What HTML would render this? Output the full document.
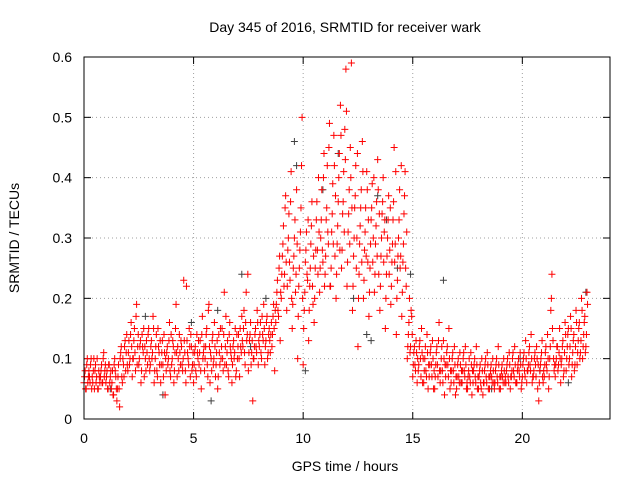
<!DOCTYPE html>
<html><head><meta charset="utf-8"><style>
body{margin:0;background:#fff;}
svg{display:block;font-family:"Liberation Sans",sans-serif;}
</style></head><body>
<svg id="chart" width="640" height="480">
<rect width="640" height="480" fill="#fff"/>
<text x="345" y="32" font-size="14" text-anchor="middle" fill="#000">Day 345 of 2016, SRMTID for receiver wark</text>
<text x="345" y="471" font-size="14" text-anchor="middle">GPS time / hours</text>
<text transform="translate(19,238) rotate(-90)" font-size="14" text-anchor="middle">SRMTID / TECUs</text>
<g id="grid"></g>
<g id="ticks"></g>
<g id="grey"></g>
<g id="red"></g>
<rect x="84" y="57" width="526" height="362" fill="none" stroke="#000" stroke-width="1"/>
</svg>
<script>
const xTicks=[0,5,10,15,20];
const yTicks=[0,0.1,0.2,0.3,0.4,0.5,0.6];
const yTickLabels=["0","0.1","0.2","0.3","0.4","0.5","0.6"];
const binStart=0, binWidth=0.25;
const redValues=[
[.06,.08,.05,.10,.07],[.07,.09,.05,.06,.10],[.08,.06,.10,.05,.07],[.07,.09,.06,.11,.08],
[.06,.08,.05,.09,.07],[.05,.08,.04,.10,.07],[.03,.07,.05,.10,.12],[.06,.09,.12,.08,.14],
[.08,.13,.10,.16,.07],[.10,.15,.08,.19,.12],[.09,.12,.06,.14,.11],[.07,.10,.13,.09,.15],
[.08,.12,.10,.17,.06],[.10,.14,.07,.12,.09],[.06,.11,.09,.14,.04],[.08,.12,.10,.16,.07],
[.09,.13,.06,.11,.19],[.07,.10,.14,.09,.12],[.08,.23,.11,.06,.13],[.10,.15,.07,.12,.09],
[.06,.11,.08,.14,.10],[.09,.13,.05,.17,.11],[.08,.12,.15,.07,.19],[.06,.10,.13,.09,.16],
[.07,.11,.05,.14,.09],[.10,.15,.08,.21,.12],[.09,.13,.07,.16,.11],[.06,.12,.10,.15,.08],
[.10,.14,.07,.12,.17],[.12,.18,.09,.21,.14],[.08,.13,.16,.11,.03],[.10,.14,.12,.18,.09],
[.12,.16,.10,.14,.19],[.09,.13,.17,.11,.15],[.11,.16,.14,.19,.08],[.16,.21,.18,.25,.13],
[.20,.27,.32,.24,.37],[.18,.28,.34,.23,.41],[.15,.25,.30,.21,.38],[.10,.22,.28,.35,.50],
[.09,.18,.26,.31,.23],[.13,.22,.29,.36,.19],[.16,.25,.33,.28,.40],[.21,.30,.38,.26,.44],
[.24,.33,.42,.29,.49],[.22,.31,.39,.47,.27],[.20,.29,.36,.44,.52],[.25,.34,.41,.48,.58],
[.22,.31,.38,.45,.59],[.18,.27,.35,.42,.30],[.12,.24,.32,.38,.46],[.20,.28,.35,.41,.26],
[.17,.25,.33,.39,.30],[.21,.29,.36,.43,.24],[.18,.27,.34,.40,.31],[.15,.24,.30,.37,.28],
[.19,.26,.33,.45,.29],[.14,.23,.30,.38,.27],[.17,.26,.34,.41,.22],[.10,.14,.20,.12,.17],
[.07,.11,.09,.13,.06],[.08,.12,.10,.15,.06],[.06,.10,.08,.14,.05],[.07,.11,.09,.13,.05],
[.05,.09,.12,.07,.16],[.06,.10,.08,.13,.04],[.07,.11,.09,.15,.05],[.06,.10,.08,.12,.04],
[.05,.09,.07,.11,.06],[.06,.10,.08,.12,.05],[.05,.08,.07,.11,.04],[.06,.09,.07,.12,.05],
[.05,.08,.06,.10,.04],[.06,.09,.07,.11,.05],[.05,.08,.07,.10,.06],[.06,.09,.07,.12,.05],
[.05,.08,.07,.10,.06],[.06,.09,.07,.11,.05],[.07,.10,.08,.12,.06],[.06,.09,.08,.11,.05],
[.07,.10,.08,.13,.06],[.08,.11,.09,.14,.06],[.07,.10,.09,.12,.05],[.03,.08,.10,.13,.06],
[.07,.11,.09,.14,.05],[.10,.18,.24,.13,.08],[.07,.10,.12,.09,.15],[.06,.10,.13,.08,.16],
[.08,.12,.15,.10,.17],[.07,.11,.14,.09,.18],[.09,.13,.16,.11,.20],[.10,.14,.17,.12,.21]];
const redValues2=[
[.07,.05,.09,.06,.08],[.06,.10,.07,.08,.05],[.09,.07,.05,.08,.06],[.08,.06,.10,.07,.09],
[.07,.05,.09,.06,.08],[.06,.04,.09,.08,.05],[.05,.09,.02,.11,.07],[.10,.07,.13,.11,.09],
[.11,.09,.14,.12,.10],[.13,.11,.17,.09,.14],[.10,.13,.08,.12,.15],[.12,.08,.11,.14,.10],
[.09,.13,.11,.15,.08],[.12,.08,.15,.11,.13],[.09,.13,.07,.11,.10],[.11,.09,.13,.08,.14],
[.10,.12,.08,.15,.11],[.12,.08,.11,.13,.09],[.10,.13,.08,.22,.11],[.09,.12,.14,.08,.11],
[.09,.12,.07,.11,.13],[.11,.08,.14,.10,.12],[.10,.14,.09,.18,.12],[.11,.08,.14,.10,.12],
[.09,.13,.07,.11,.15],[.12,.10,.14,.09,.17],[.11,.08,.14,.12,.10],[.09,.13,.11,.07,.14],
[.12,.10,.15,.11,.13],[.15,.11,.16,.13,.24],[.11,.14,.09,.13,.10],[.12,.15,.11,.16,.13],
[.14,.11,.17,.13,.15],[.12,.16,.10,.14,.13],[.14,.12,.17,.15,.18],[.19,.23,.17,.27,.21],
[.24,.29,.22,.35,.26],[.22,.30,.26,.36,.20],[.19,.27,.33,.24,.29],[.17,.25,.31,.42,.20],
[.15,.21,.28,.24,.33],[.18,.25,.32,.22,.27],[.20,.28,.36,.24,.31],[.25,.33,.28,.40,.22],
[.27,.35,.31,.45,.22],[.25,.34,.29,.42,.37],[.24,.32,.40,.28,.47],[.28,.36,.31,.43,.51],
[.26,.34,.29,.40,.35],[.22,.30,.37,.25,.44],[.20,.29,.35,.26,.41],[.23,.31,.27,.38,.33],
[.21,.29,.35,.26,.40],[.24,.32,.27,.38,.34],[.22,.30,.36,.26,.33],[.20,.27,.33,.24,.35],
[.22,.29,.36,.26,.41],[.20,.27,.33,.25,.42],[.21,.29,.37,.25,.31],[.12,.16,.11,.18,.14],
[.09,.12,.08,.11,.10],[.09,.13,.07,.11,.10],[.08,.12,.07,.11,.09],[.09,.12,.07,.10,.08],
[.07,.11,.09,.13,.08],[.08,.12,.06,.10,.09],[.09,.12,.07,.10,.08],[.08,.11,.06,.09,.07],
[.07,.10,.06,.09,.08],[.08,.11,.07,.09,.06],[.07,.10,.06,.09,.08],[.08,.10,.06,.09,.07],
[.07,.09,.05,.08,.06],[.08,.10,.06,.09,.07],[.07,.09,.06,.08,.05],[.08,.10,.06,.09,.07],
[.07,.09,.06,.08,.07],[.08,.10,.06,.09,.07],[.08,.11,.07,.09,.06],[.08,.10,.07,.09,.06],
[.09,.11,.07,.10,.08],[.09,.12,.08,.10,.07],[.08,.11,.07,.10,.09],[.06,.09,.11,.07,.08],
[.09,.12,.08,.10,.07],[.12,.20,.15,.10,.09],[.09,.12,.08,.11,.10],[.09,.12,.07,.11,.14],
[.10,.14,.09,.12,.15],[.09,.13,.08,.12,.16],[.11,.15,.10,.13,.18],[.12,.16,.11,.14,.19]];
const greyTimes=[1.2,2.8,3.6,4.9,5.8,6.1,7.2,7.6,8.3,9.6,9.7,10.1,10.9,11.6,12.3,12.9,13.1,13.4,13.8,14.3,14.9,16.4,17.2,18.6,19.9,20.8,22.1,22.9];
const greyValues=[.05,.17,.04,.16,.03,.18,.24,.12,.20,.46,.42,.08,.38,.44,.20,.14,.13,.37,.33,.25,.24,.23,.06,.05,.10,.08,.06,.21];
const X=t=>84+t*(526/24), Y=v=>419-v*(362/0.6);
const NS="http://www.w3.org/2000/svg";
const grid=document.getElementById('grid'), ticks=document.getElementById('ticks');
function line(g,x1,y1,x2,y2,st,dash){const l=document.createElementNS(NS,'line');l.setAttribute('x1',x1);l.setAttribute('y1',y1);l.setAttribute('x2',x2);l.setAttribute('y2',y2);l.setAttribute('stroke',st);if(dash)l.setAttribute('stroke-dasharray',dash);g.appendChild(l);return l;}
function txt(g,x,y,s,anchor){const t=document.createElementNS(NS,'text');t.setAttribute('x',x);t.setAttribute('y',y);t.setAttribute('font-size','14');t.setAttribute('text-anchor',anchor);t.textContent=s;g.appendChild(t);return t;}
xTicks.forEach(v=>{const x=X(v);
 if(v>0){const gl=line(grid,x,57,x,419,'#a0a0a0','1,3');

}
 line(ticks,x,419,x,412,'#000');line(ticks,x,57,x,64,'#000');
 const t=txt(ticks,x,443,String(v),'middle');

});
yTicks.forEach((v,i)=>{const y=Y(v);
 if(v>0&&v<0.6){const gl=line(grid,84,y,610,y,'#a0a0a0','1,3');

}
 line(ticks,84,y,91,y,'#000');line(ticks,610,y,603,y,'#000');
 const t=txt(ticks,72,y+5,yTickLabels[i],'end');

});
function plus(g,t,v,col){const x=X(t),y=Y(v);const p=document.createElementNS(NS,'path');
p.setAttribute('d',`M${x-3.5},${y}H${x+3.5}M${x},${y-3.5}V${y+3.5}`);p.setAttribute('stroke',col);p.setAttribute('stroke-width','1');


g.appendChild(p);}
const grey=document.getElementById('grey'), red=document.getElementById('red');
greyTimes.forEach((t,i)=>plus(grey,t,greyValues[i],'#404040'));
redValues.forEach((row,i)=>row.forEach((v,j)=>plus(red,binStart+i*binWidth+j*0.05,v,'#ff0000')));
redValues2.forEach((row,i)=>row.forEach((v,j)=>plus(red,binStart+i*binWidth+j*0.05+0.025,v,'#ff0000')));
</script>
</body></html>
